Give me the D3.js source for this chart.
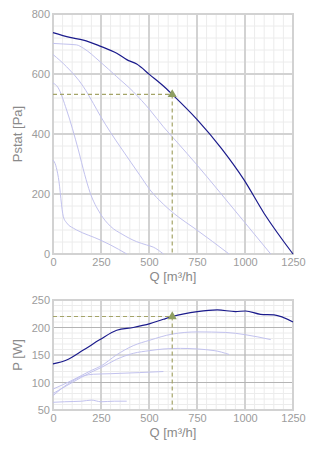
<!DOCTYPE html>
<html>
<head>
<meta charset="utf-8">
<script src="https://cdn.jsdelivr.net/npm/d3@7"></script>
<style>
  html, body { margin: 0; padding: 0; background: #fff; }
  svg { display: block; font-family: "Liberation Sans", Arial, sans-serif; }
</style>
</head>
<body>
<svg id="chart" width="328" height="458"></svg>
<script>
// Fan curves: flow Q [m³/h] vs static pressure and power
const qTicks = [0, 250, 500, 750, 1000, 1250];
const pstatTicks = [0, 200, 400, 600, 800];
const powerTicks = [50, 100, 150, 200, 250];

// Static pressure curves [Q, Pstat]
const pstatMain = [[0,738],[88,722],[158,713],[245,693],[332,669],[384,648],[436,633],[505,597],[575,560],[621,532],[752,447],[877,352],[995,247],[1099,136],[1250,0]];
const pstatA = [[0,702],[54,700],[123,697],[158,686],[245,641],[332,591],[418,541],[505,480],[575,424],[650,370],[743,302],[870,205],[995,108],[1134,0]];
const pstatB = [[0,665],[71,624],[158,558],[210,502],[245,462],[300,405],[358,350],[453,262],[505,214],[575,166],[650,125],[734,87],[830,42],[917,0]];
const pstatC = [[0,570],[25,556],[71,480],[132,347],[165,265],[193,205],[245,136],[300,92],[360,66],[436,41],[488,30],[522,23],[575,0]];
const pstatD = [[0,313],[14,296],[28,255],[54,124],[71,104],[106,86],[123,80],[245,47],[300,30],[384,0]];

// Power curves [Q, P]
const powerMain = [[0,134],[71,141],[158,159],[245,178],[332,195],[418,200],[505,207],[575,215],[621,220],[752,229],[856,232],[951,229],[1003,230],[1081,224],[1151,223],[1250,210]];
const powerA = [[0,88],[100,104],[200,122],[250,130],[330,150],[418,167],[505,177],[621,188],[752,192],[900,191],[1000,187],[1134,178]];
const powerB = [[0,80],[100,100],[200,119],[250,127],[330,142],[418,153],[505,158],[578,161],[665,162],[839,158],[917,151]];
const powerC = [[0,76],[80,98],[158,112],[210,115],[300,116],[450,118],[575,120]];
const powerD = [[0,64],[60,65],[150,66],[200,68],[250,65],[320,66],[384,66]];

// Operating point
const opQ = 621, opPstat = 532, opPower = 220;

const svg = d3.select("#chart");
const left = 53, right = 293;
const x = d3.scaleLinear().domain([0, 1250]).range([left, right]);

const mainColor = "#1b1b8c";
const lightColor = "#c2c2ee";
const dashColor = "#a4a468";
const textColor = "#8a8a8a";
const tickColor = "#9c9c9c";

function panel(yDomain, yRange, yTicks, xMinorStep, yMinorStep, majorHColor, curves, main, opY, yTitle) {
  const y = d3.scaleLinear().domain(yDomain).range(yRange);
  const g = svg.append("g");
  const [y0, y1] = yDomain;

  // minor grid
  g.append("g").selectAll("line").data(d3.range(0, 1250 + 1, xMinorStep).filter(v => v % 250 !== 0))
    .join("line").attr("x1", d => x(d)).attr("x2", d => x(d))
    .attr("y1", y(y0)).attr("y2", y(y1)).attr("stroke", "#ececec").attr("stroke-width", 1);
  const majStep = yTicks[1] - yTicks[0];
  g.append("g").selectAll("line").data(d3.range(y0, y1 + 0.1, yMinorStep).filter(v => Math.abs((v - y0) % majStep) > 0.01))
    .join("line").attr("y1", d => y(d)).attr("y2", d => y(d))
    .attr("x1", left).attr("x2", right).attr("stroke", "#ececec").attr("stroke-width", 1);

  // major grid
  g.append("g").selectAll("line").data(qTicks.slice(1, -1))
    .join("line").attr("x1", d => x(d)).attr("x2", d => x(d))
    .attr("y1", y(y0)).attr("y2", y(y1)).attr("stroke", "#d2d2d2").attr("stroke-width", 2);
  g.append("g").selectAll("line").data(yTicks.slice(1, -1))
    .join("line").attr("y1", d => y(d)).attr("y2", d => y(d))
    .attr("x1", left).attr("x2", right).attr("stroke", majorHColor).attr("stroke-width", majorHColor === "#d2d2d2" ? 2 : 1.2);

  // frame
  g.append("rect").attr("x", left).attr("y", y(y1)).attr("width", right - left).attr("height", y(y0) - y(y1))
    .attr("fill", "none").attr("stroke", "#d2d2d2").attr("stroke-width", 2);

  const line = d3.line().x(d => x(d[0])).y(d => y(d[1])).curve(d3.curveMonotoneX);

  curves.forEach(c => g.append("path").datum(c).attr("d", line)
    .attr("fill", "none").attr("stroke", lightColor).attr("stroke-width", 1));
  g.append("path").datum(main).attr("d", line)
    .attr("fill", "none").attr("stroke", mainColor).attr("stroke-width", 1.2);

  // operating point guides
  g.append("line").attr("x1", left).attr("x2", x(opQ)).attr("y1", y(opY)).attr("y2", y(opY))
    .attr("stroke", dashColor).attr("stroke-width", 1.2).attr("stroke-dasharray", "4,3");
  g.append("line").attr("x1", x(opQ)).attr("x2", x(opQ)).attr("y1", y(opY)).attr("y2", y(y0))
    .attr("stroke", dashColor).attr("stroke-width", 1.2).attr("stroke-dasharray", "4,3");
  g.append("path").attr("d", d3.symbol(d3.symbolTriangle, 36)())
    .attr("transform", `translate(${x(opQ)},${y(opY)})`).attr("fill", "#8e9e62");

  // axes
  const yAxis = g.append("g").attr("transform", `translate(${left},0)`)
    .call(d3.axisLeft(y).tickValues(yTicks).tickFormat(d3.format("d")).tickSize(0).tickPadding(3));
  const xAxis = g.append("g").attr("transform", `translate(0,${y(y0)})`)
    .call(d3.axisBottom(x).tickValues(qTicks).tickFormat(d3.format("d")).tickSize(0).tickPadding(4));
  [yAxis, xAxis].forEach(a => {
    a.select(".domain").remove();
    a.selectAll("text").attr("fill", tickColor).style("font-size", "11px")
      .style("font-family", "'Liberation Sans', Arial, sans-serif");
  });

  svg.append("text").attr("x", (left + right) / 2).attr("y", y(y0) + 27)
    .attr("text-anchor", "middle").attr("fill", textColor).style("font-size", "13px").text("Q [m³/h]");
  svg.append("text").attr("transform", `translate(22,${(y(y0) + y(y1)) / 2}) rotate(-90)`)
    .attr("text-anchor", "middle").attr("fill", textColor).style("font-size", "13px").text(yTitle);
}

panel([0, 800], [254, 14], pstatTicks, 50, 40, "#d2d2d2",
  [pstatA, pstatB, pstatC, pstatD], pstatMain, opPstat, "Pstat [Pa]");
panel([50, 250], [410, 300], powerTicks, 50, 10, "#b4b4b4",
  [powerA, powerB, powerC, powerD], powerMain, opPower, "P [W]");
</script>
</body>
</html>
